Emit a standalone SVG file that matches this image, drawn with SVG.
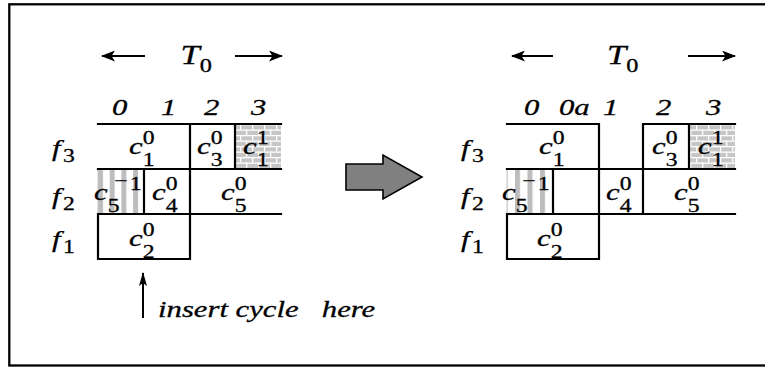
<svg xmlns="http://www.w3.org/2000/svg" width="765" height="367" viewBox="0 0 765 367" font-family="Liberation Serif">
<style>
text{font-size:24px;fill:#000;stroke:#000;stroke-width:0.3}
.it{font-style:italic}
.s{font-size:18.5px;font-style:normal}
.big{font-size:27px}
.bs{font-size:19px;font-style:normal}
.g{stroke:#000;stroke-width:2.2;fill:none;stroke-linecap:square}
.ar{stroke:#000;stroke-width:2;fill:none}
</style>
<defs>
<marker id="ah" viewBox="0 0 14 11" refX="13" refY="5.5" markerWidth="14" markerHeight="11" markerUnits="userSpaceOnUse" orient="auto">
<path d="M0,0 L14,5.5 L0,11 L3.5,5.5 z" fill="#000"/>
</marker>
<marker id="ah2" viewBox="0 0 14 8" refX="13" refY="4" markerWidth="14" markerHeight="8" markerUnits="userSpaceOnUse" orient="auto">
<path d="M0,0 L14,4 L0,8 L3,4 z" fill="#000"/>
</marker>
<pattern id="brick" patternUnits="userSpaceOnUse" x="0" y="124" width="12" height="11">
<rect width="12" height="11" fill="#c6c6c6"/>
<rect y="0" width="12" height="1.3" fill="#fff"/>
<rect y="5.5" width="12" height="1.3" fill="#fff"/>
<rect x="0" y="0" width="1.3" height="5.5" fill="#fff"/>
<rect x="6" y="5.5" width="1.3" height="5.5" fill="#fff"/>
</pattern>
<pattern id="stripeL" patternUnits="userSpaceOnUse" x="98" y="0" width="11.7" height="10">
<rect width="5" height="10" fill="#bdbdbd"/>
</pattern>
<pattern id="stripeR" patternUnits="userSpaceOnUse" x="515" y="0" width="12.5" height="10">
<rect width="5" height="10" fill="#bdbdbd"/>
</pattern>
</defs>
<rect x="9.3" y="4.3" width="770" height="361.2" fill="#fff" stroke="#000" stroke-width="2.3"/>

<g id="left-panel" font-family="Liberation Serif, Times New Roman, serif">
<g id="left-fills">
<rect x="98" y="169" width="46" height="45" fill="url(#stripeL)" stroke="#c8c8c8" stroke-width="1"/>
<rect x="235" y="124" width="46" height="45" fill="url(#brick)"/>
</g>
<g id="left-grid" class="g">
<path d="M98,124H281M98,169H281M98,214H281M98,259H190M98,214V259M190,124V259M235,124V169M144,169V214"/>
</g>
<g id="left-header">
<line class="ar" x1="145" y1="56" x2="102" y2="56" marker-end="url(#ah)"/>
<line class="ar" x1="235" y1="56" x2="282" y2="56" marker-end="url(#ah)"/>
<text transform="translate(180.5,64) scale(1.28,1)"><tspan class="it big">T</tspan><tspan class="bs" dy="8">0</tspan></text>
<text class="it" transform="translate(112,115) scale(1.28,1)">0</text>
<text class="it" transform="translate(161,115) scale(1.28,1)">1</text>
<text class="it" transform="translate(204,115) scale(1.28,1)">2</text>
<text class="it" transform="translate(251,115) scale(1.28,1)">3</text>
</g>
<g id="left-rows">
<text transform="translate(52,156) scale(1.28,1)"><tspan class="it">f</tspan><tspan class="s" dx="2" dy="6">3</tspan></text>
<text transform="translate(52,204) scale(1.28,1)"><tspan class="it">f</tspan><tspan class="s" dx="2" dy="6">2</tspan></text>
<text transform="translate(52,247) scale(1.28,1)"><tspan class="it">f</tspan><tspan class="s" dx="2" dy="6">1</tspan></text>
</g>
<g id="left-c1-0"><text transform="translate(129,154) scale(1.28,1)"><tspan class="it">c</tspan><tspan class="s" dy="-10">0</tspan><tspan class="s" dx="-9.25" dy="22">1</tspan></text></g>
<g id="left-c3-0"><text transform="translate(197,154) scale(1.28,1)"><tspan class="it">c</tspan><tspan class="s" dy="-10">0</tspan><tspan class="s" dx="-9.25" dy="22">3</tspan></text></g>
<g id="left-c1-1"><text transform="translate(243,154) scale(1.28,1)"><tspan class="it">c</tspan><tspan class="s" dy="-10">1</tspan><tspan class="s" dx="-9.25" dy="22">1</tspan></text></g>
<g id="left-c5-m1"><text transform="translate(94,200) scale(1.28,1)"><tspan class="it">c</tspan><tspan class="s" dy="12">5</tspan><tspan class="s" dx="-4" dy="-25">−</tspan><tspan class="s" dx="1.5" dy="3">1</tspan></text></g>
<g id="left-c4-0"><text transform="translate(152,200) scale(1.28,1)"><tspan class="it">c</tspan><tspan class="s" dy="-10">0</tspan><tspan class="s" dx="-9.25" dy="22">4</tspan></text></g>
<g id="left-c5-0"><text transform="translate(221,200) scale(1.28,1)"><tspan class="it">c</tspan><tspan class="s" dy="-10">0</tspan><tspan class="s" dx="-9.25" dy="22">5</tspan></text></g>
<g id="left-c2-0"><text transform="translate(129,246) scale(1.28,1)"><tspan class="it">c</tspan><tspan class="s" dy="-10">0</tspan><tspan class="s" dx="-9.25" dy="22">2</tspan></text></g>
<g id="insert-note">
<line class="ar" x1="143" y1="318" x2="143" y2="273" marker-end="url(#ah2)" stroke-width="1.6"/>
<text class="it" transform="translate(158,317) scale(1.28,1)">insert cycle <tspan x="128">here</tspan></text>
</g>
</g>

<g id="transform-arrow">
<polygon points="346,164 383,164 383,155 422,177 383,199 383,190 346,190" fill="#808080" stroke="#000" stroke-width="1.6" stroke-linejoin="miter"/>
</g>

<g id="right-panel" font-family="Liberation Serif, Times New Roman, serif">
<g id="right-fills">
<rect x="507" y="169" width="46" height="45" fill="url(#stripeR)" stroke="#c8c8c8" stroke-width="1"/>
<rect x="689" y="124" width="46" height="45" fill="url(#brick)"/>
</g>
<g id="right-grid" class="g">
<path d="M507,124H599M643,124H735M507,169H735M507,214H735M507,259H599M507,214V259M599,124V259M553,169V214M643,124V214M689,124V169"/>
</g>
<g id="right-header">
<line class="ar" x1="553" y1="56" x2="512" y2="56" marker-end="url(#ah)"/>
<line class="ar" x1="688" y1="56" x2="735" y2="56" marker-end="url(#ah)"/>
<text transform="translate(607,64) scale(1.28,1)"><tspan class="it big">T</tspan><tspan class="bs" dy="8">0</tspan></text>
<text class="it" transform="translate(524,115) scale(1.28,1)">0</text>
<text class="it" transform="translate(559,115) scale(1.28,1)">0a</text>
<text class="it" transform="translate(603,115) scale(1.28,1)">1</text>
<text class="it" transform="translate(656,115) scale(1.28,1)">2</text>
<text class="it" transform="translate(706,115) scale(1.28,1)">3</text>
</g>
<g id="right-rows">
<text transform="translate(461,156) scale(1.28,1)"><tspan class="it">f</tspan><tspan class="s" dx="2" dy="6">3</tspan></text>
<text transform="translate(461,204) scale(1.28,1)"><tspan class="it">f</tspan><tspan class="s" dx="2" dy="6">2</tspan></text>
<text transform="translate(461,247) scale(1.28,1)"><tspan class="it">f</tspan><tspan class="s" dx="2" dy="6">1</tspan></text>
</g>
<g id="right-c1-0"><text transform="translate(539,154) scale(1.28,1)"><tspan class="it">c</tspan><tspan class="s" dy="-10">0</tspan><tspan class="s" dx="-9.25" dy="22">1</tspan></text></g>
<g id="right-c3-0"><text transform="translate(652,154) scale(1.28,1)"><tspan class="it">c</tspan><tspan class="s" dy="-10">0</tspan><tspan class="s" dx="-9.25" dy="22">3</tspan></text></g>
<g id="right-c1-1"><text transform="translate(698,154) scale(1.28,1)"><tspan class="it">c</tspan><tspan class="s" dy="-10">1</tspan><tspan class="s" dx="-9.25" dy="22">1</tspan></text></g>
<g id="right-c5-m1"><text transform="translate(502,200) scale(1.28,1)"><tspan class="it">c</tspan><tspan class="s" dy="12">5</tspan><tspan class="s" dx="-4" dy="-25">−</tspan><tspan class="s" dx="1.5" dy="3">1</tspan></text></g>
<g id="right-c4-0"><text transform="translate(606,200) scale(1.28,1)"><tspan class="it">c</tspan><tspan class="s" dy="-10">0</tspan><tspan class="s" dx="-9.25" dy="22">4</tspan></text></g>
<g id="right-c5-0"><text transform="translate(674,200) scale(1.28,1)"><tspan class="it">c</tspan><tspan class="s" dy="-10">0</tspan><tspan class="s" dx="-9.25" dy="22">5</tspan></text></g>
<g id="right-c2-0"><text transform="translate(537,246) scale(1.28,1)"><tspan class="it">c</tspan><tspan class="s" dy="-10">0</tspan><tspan class="s" dx="-9.25" dy="22">2</tspan></text></g>
</g>
</svg>
